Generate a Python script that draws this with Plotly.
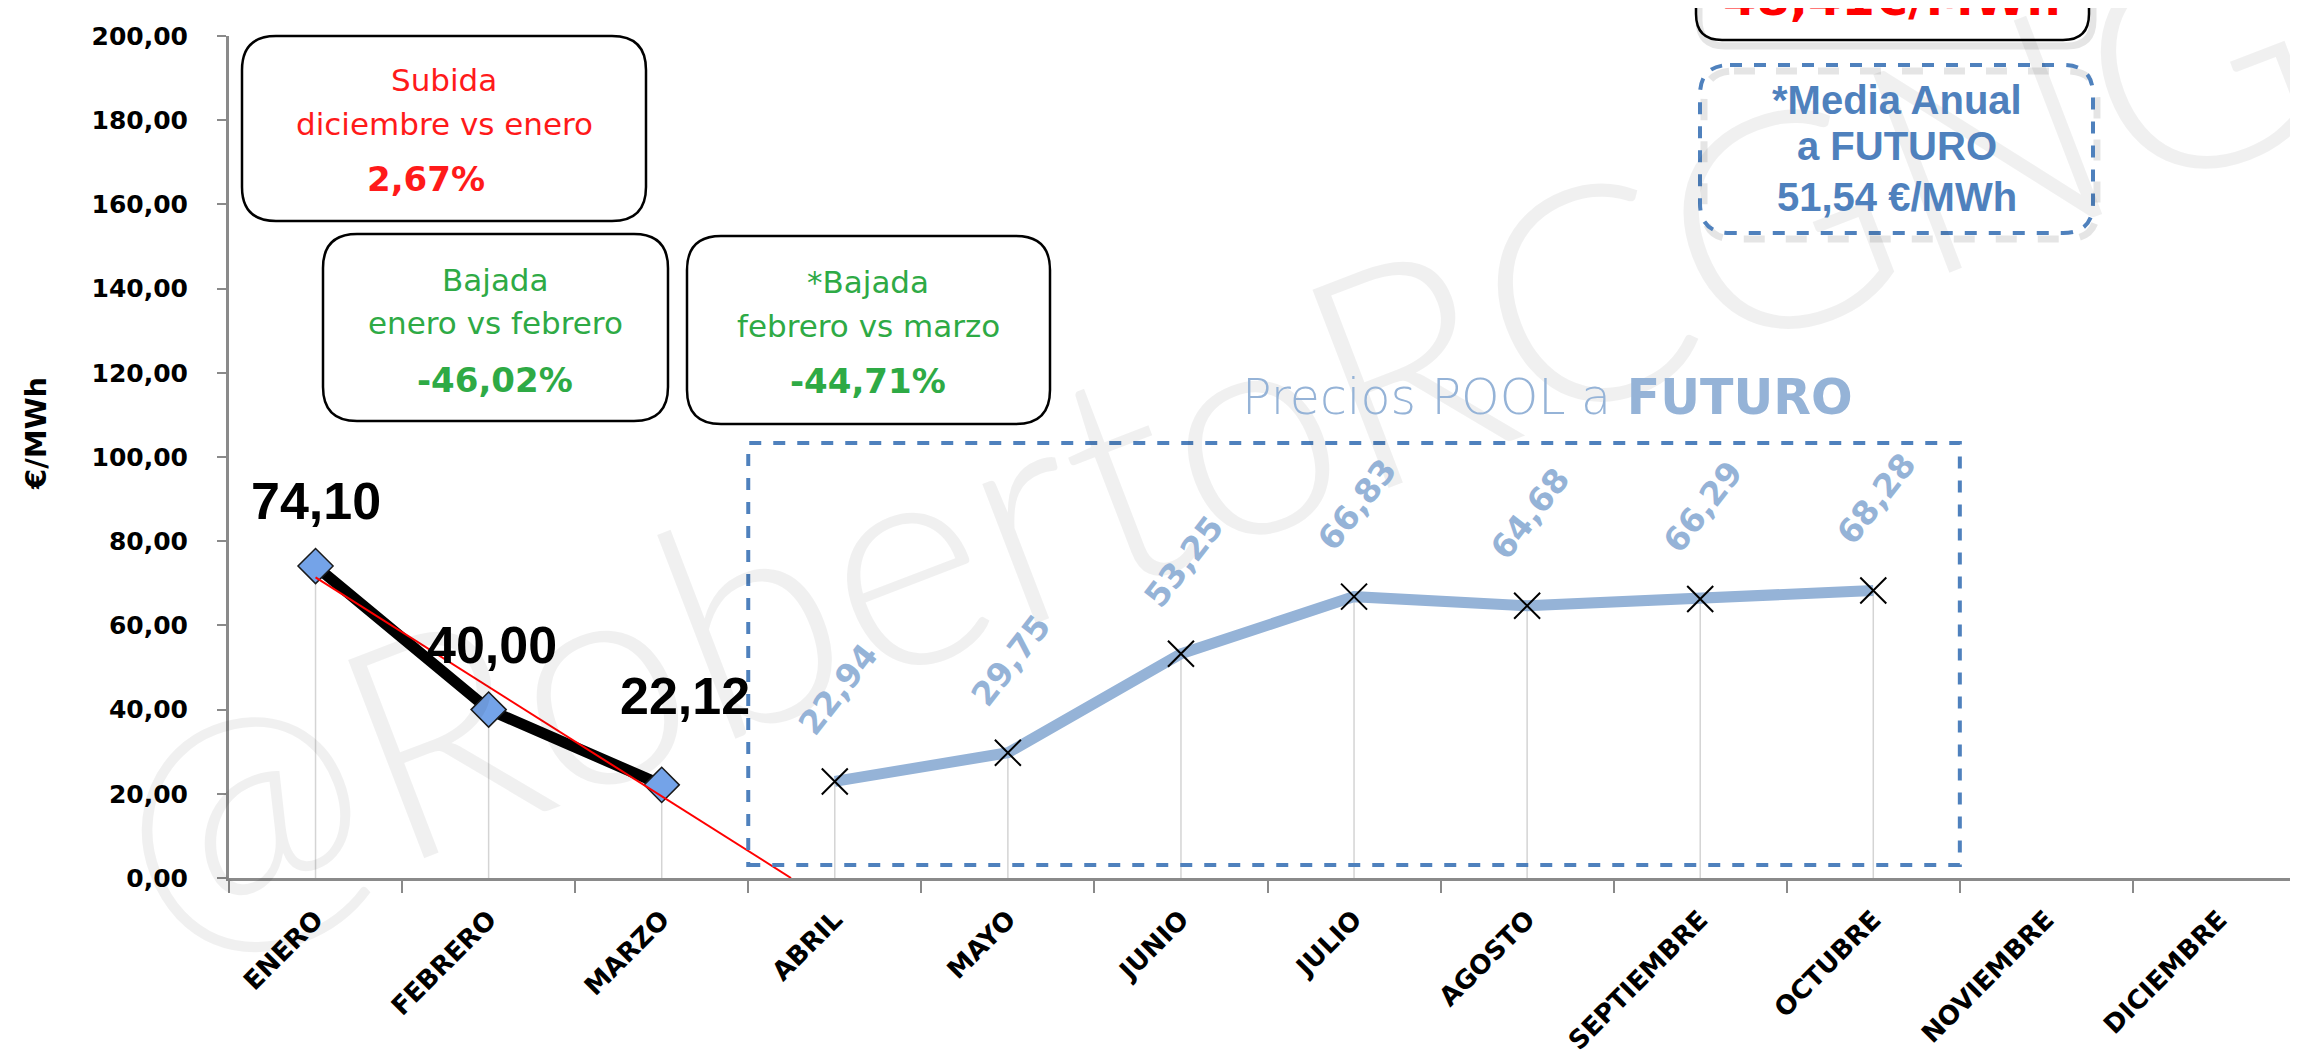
import numpy as np
import plotly.graph_objects as go

# ---------------- data ----------------
months = ["ENERO", "FEBRERO", "MARZO", "ABRIL", "MAYO", "JUNIO", "JULIO",
          "AGOSTO", "SEPTIEMBRE", "OCTUBRE", "NOVIEMBRE", "DICIEMBRE"]
real_months = ["ENERO", "FEBRERO", "MARZO"]
real_values = [74.10, 40.00, 22.12]
future_months = ["ABRIL", "MAYO", "JUNIO", "JULIO", "AGOSTO", "SEPTIEMBRE", "OCTUBRE"]
future_values = [22.94, 29.75, 53.25, 66.83, 64.68, 66.29, 68.28]
y_ticks = [0, 20, 40, 60, 80, 100, 120, 140, 160, 180, 200]
y_tick_labels = ["0,00", "20,00", "40,00", "60,00", "80,00", "100,00",
                 "120,00", "140,00", "160,00", "180,00", "200,00"]

box1_lines = ["Subida", "diciembre vs enero", "2,67%"]
box2_lines = ["Bajada", "enero vs febrero", "-46,02%"]
box3_lines = ["*Bajada", "febrero vs marzo", "-44,71%"]
media_real = "48,41€/MWh"
media_futuro_lines = ["*Media Anual", "a FUTURO", "51,54 €/MWh"]
future_title = "Precios POOL a <b>FUTURO</b>"
watermark = "@RobertoRCGNG"

# ---------------- geometry helpers ----------------
W, H = 2298, 1052
L, R, T, B = 221, 0, 28, 182
PW, PH = W - L - R, H - T - B


def px(x):
    return (x - L) / PW


def py(y):
    return (H - B - y) / PH


def rrect(x0, y0, x1, y1, r):
    def P(x, y):
        return f"{px(x):.5f},{py(y):.5f}"
    return (f"M{P(x0 + r, y0)} L{P(x1 - r, y0)} Q{P(x1, y0)} {P(x1, y0 + r)} "
            f"L{P(x1, y1 - r)} Q{P(x1, y1)} {P(x1 - r, y1)} L{P(x0 + r, y1)} "
            f"Q{P(x0, y1)} {P(x0, y1 - r)} L{P(x0, y0 + r)} Q{P(x0, y0)} {P(x0 + r, y0)} Z")


def fmt(v):
    return f"{v:.2f}".replace(".", ",")


real_x = [months.index(m) for m in real_months]
future_x = [months.index(m) for m in future_months]

fig = go.Figure()

# drop lines
dx, dy = [], []
for xv, yv in zip(real_x + future_x, real_values + future_values):
    dx += [xv, xv, None]
    dy += [0, yv, None]
fig.add_trace(go.Scatter(x=dx, y=dy, mode="lines",
                         line=dict(color="#d4d4d4", width=1.5),
                         hoverinfo="skip", showlegend=False))

# real series
fig.add_trace(go.Scatter(x=real_x, y=real_values, mode="lines",
                         line=dict(color="black", width=11),
                         showlegend=False))
fig.add_trace(go.Scatter(x=real_x, y=real_values, mode="markers",
                         marker=dict(symbol="diamond", size=27, color="#74a3e8",
                                     line=dict(color="#1a1a1a", width=1.5)),
                         showlegend=False))

# linear trend (forecast forward until zero)
slope, intercept = np.polyfit(real_x, real_values, 1)
x_end = -intercept / slope
fig.add_trace(go.Scatter(x=[real_x[0], x_end],
                         y=[intercept + slope * real_x[0], 0],
                         mode="lines", line=dict(color="#ff0000", width=2),
                         showlegend=False))

# future series
fig.add_trace(go.Scatter(x=future_x, y=future_values, mode="lines+markers",
                         line=dict(color="#95b3d7", width=11),
                         marker=dict(symbol="x-thin", size=26, color="black",
                                     line=dict(color="black", width=2)),
                         showlegend=False))

annotations = []


def ann(**kw):
    kw.setdefault("showarrow", False)
    kw.setdefault("xanchor", "center")
    kw.setdefault("yanchor", "middle")
    annotations.append(kw)


# watermark
ann(text=watermark, xref="paper", yref="paper", x=px(1200), y=py(425),
    textangle=-21,
    font=dict(family="Lato", size=300, color="rgba(0,0,0,0.06)", weight=300))

# real labels
real_shift = [(0, 65), (3, 65), (23, 89)]
for xv, yv, (xs, ys) in zip(real_x, real_values, real_shift):
    ann(x=xv, y=yv, text=fmt(yv), xshift=xs, yshift=ys,
        font=dict(family="Liberation Sans", size=52, color="black", weight="bold"))

# future labels
for xv, yv in zip(future_x, future_values):
    ann(x=xv, y=yv, text=fmt(yv), xshift=3, yshift=92, textangle=-52,
        font=dict(family="DejaVu Sans", size=33, color="#95b3d7", weight="bold"))

# text boxes
RED, GREEN, BLUE = "#ff1a1a", "#2eaa45", "#4f81bd"


def box_text(lines, cx, ys, color, xs_last=0):
    for i, (t, yy) in enumerate(zip(lines, ys)):
        last = i == len(lines) - 1
        ann(xref="paper", yref="paper", x=px(cx + (xs_last if last else 0)), y=py(yy),
            text=t,
            font=dict(family="DejaVu Sans", size=34 if last else 31,
                      color=color, weight="bold" if last else "normal"))


box_text(box1_lines, 436, [72, 116, 171], RED, xs_last=-18)
box_text(box2_lines, 487, [272, 315, 372], GREEN)
box_text(box3_lines, 860, [274, 318, 373], GREEN)

for t, yy in zip(media_futuro_lines, [92, 138, 189]):
    ann(xref="paper", yref="paper", x=px(1889), y=py(yy), text=t,
        font=dict(family="Liberation Sans", size=40, color=BLUE, weight="bold"))

ann(xref="paper", yref="paper", x=px(1884), y=py(20), yanchor="bottom",
    text=media_real,
    font=dict(family="DejaVu Sans", size=48, color="#ff0000", weight="bold"))

ann(xref="paper", yref="paper", x=px(1539), y=py(389), text=future_title,
    font=dict(family="DejaVu Sans", size=49, color="#95b3d7", weight=300))

# axis title
ann(xref="paper", yref="paper", x=px(28), y=py(426), text="€/MWh", textangle=-90,
    font=dict(family="DejaVu Sans", size=29, color="black", weight="bold"))

shapes = []
for (x0, y0, x1, y1) in [(234, 28, 638, 213), (315, 226, 660, 413), (679, 228, 1042, 416)]:
    shapes.append(dict(type="path", xref="paper", yref="paper",
                       path=rrect(x0, y0, x1, y1, 34),
                       line=dict(color="black", width=2.5)))
# red media box (cut by top of page), with shadow
shapes.append(dict(type="path", xref="paper", yref="paper",
                   path=rrect(1691, -60, 2085, 38, 26),
                   line=dict(color="rgba(0,0,0,0.10)", width=7)))
shapes.append(dict(type="path", xref="paper", yref="paper",
                   path=rrect(1688, -60, 2081, 32, 26),
                   line=dict(color="black", width=2.5)))
# blue dashed media futuro box
shapes.append(dict(type="path", xref="paper", yref="paper",
                   path=rrect(1696, 63, 2089, 231, 30),
                   line=dict(color="rgba(0,0,0,0.10)", width=7, dash="dash")))
shapes.append(dict(type="path", xref="paper", yref="paper",
                   path=rrect(1692, 57, 2085, 225, 30),
                   line=dict(color=BLUE, width=4, dash="dash")))
# future region rectangle
shapes.append(dict(type="rect", xref="x", yref="y", x0=2.5, x1=9.5, y0=3.1, y1=103.3,
                   line=dict(color=BLUE, width=4, dash="dash")))

fig.update_layout(
    width=W, height=H,
    margin=dict(l=L, r=R, t=T, b=B),
    paper_bgcolor="white", plot_bgcolor="white",
    showlegend=False,
    annotations=annotations,
    shapes=shapes,
    xaxis=dict(range=[-0.5, 11.5], tickmode="array",
               tickvals=list(range(len(months))), ticktext=months,
               tickangle=-45, ticks="", showgrid=False, zeroline=False,
               showline=True, linecolor="#8a8a8a", linewidth=3,
               ticklabelstandoff=13,
               tickfont=dict(family="DejaVu Sans", size=26, color="black", weight="bold"),
               minor=dict(tickmode="array",
                          tickvals=[i - 0.5 for i in range(len(months) + 1)],
                          ticks="outside", ticklen=12, tickwidth=2,
                          tickcolor="#8a8a8a", showgrid=False)),
    yaxis=dict(range=[0, 200], tickmode="array", tickvals=y_ticks,
               ticktext=y_tick_labels, ticks="outside", ticklen=9, tickwidth=2,
               tickcolor="#8a8a8a", showgrid=False, zeroline=False,
               showline=True, linecolor="#8a8a8a", linewidth=3,
               ticklabelstandoff=24,
               tickfont=dict(family="DejaVu Sans", size=25, color="black", weight="bold")),
)

fig.write_html("out.html")
